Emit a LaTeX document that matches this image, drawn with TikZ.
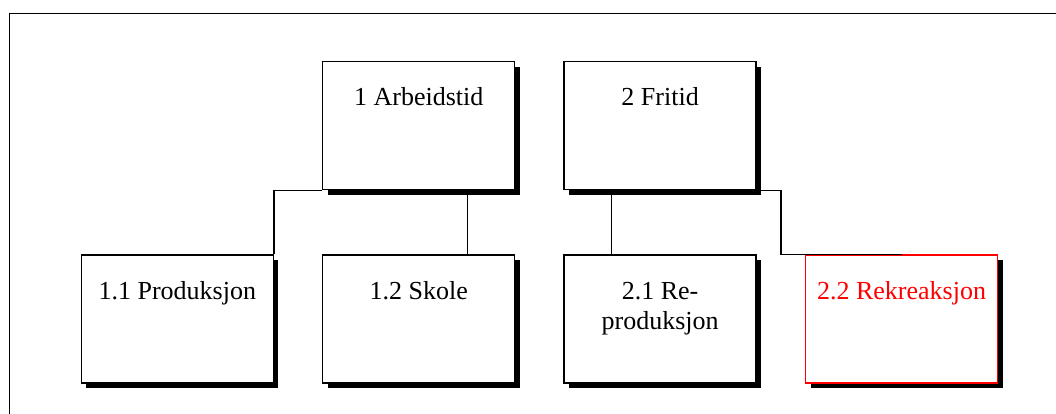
\documentclass[tikz,border=0pt]{standalone}
\usepackage{fontspec}
\setmainfont{Liberation Serif}
\newfontfamily\rkserif{Liberation Serif}
\usepackage{tikz}
\usepackage{xcolor}
\usetikzlibrary{positioning, shadows}
\definecolor{rkred}{RGB}{255, 0, 0}
\definecolor{rkblack}{RGB}{0, 0, 0}
\tikzset{
    actbox/.style={rectangle, draw=rkblack, fill=white, line width=1.4pt, minimum width=192pt, minimum height=128pt, inner sep=0pt, align=center, text height=44pt, text depth=84pt, font=\rkserif\fontsize{26}{30}\selectfont, drop shadow={shadow xshift=5pt, shadow yshift=-5pt, fill=rkblack, opacity=1}},
    twoline/.style={text height=74pt, text depth=54pt},
    redbox/.style={actbox, draw=rkred, text=rkred},
    conn/.style={draw=rkblack, line width=1.4pt},
    pageframe/.style={draw=rkblack, line width=1.4pt}
}

\begin{document}
\begin{tikzpicture}[x=1pt, y=-1pt]
    \useasboundingbox (0,0) rectangle (1056,414);
    \draw[pageframe] (9.5,430) |- (1070,13.5);

    \node[actbox, anchor=north west] (arb) at (322,61) {1 Arbeidstid};
    \node[actbox, right=48pt of arb] (frit) {2 Fritid};
    \node[actbox, below=64pt of arb] (skole) {1.2 Skole};
    \node[actbox, left=48pt of skole] (prod) {1.1 Produksjon};
    \node[actbox, twoline, below=64pt of frit] (repr) {2.1 Re-\\produksjon};
    \node[redbox, right=48pt of repr] (rekr) {2.2 Rekreaksjon};

    \draw[conn] (arb.south west) -| (prod.north east);
    \draw[conn] ([xshift=-48pt]arb.south east) -- ([xshift=-48pt]skole.north east);
    \draw[conn] ([xshift=48pt]frit.south west) -- ([xshift=48pt]repr.north west);
    \draw[conn] (frit.south east) -| ([xshift=-24pt]rekr.north west) -- (rekr.north);
\end{tikzpicture}
\end{document}
